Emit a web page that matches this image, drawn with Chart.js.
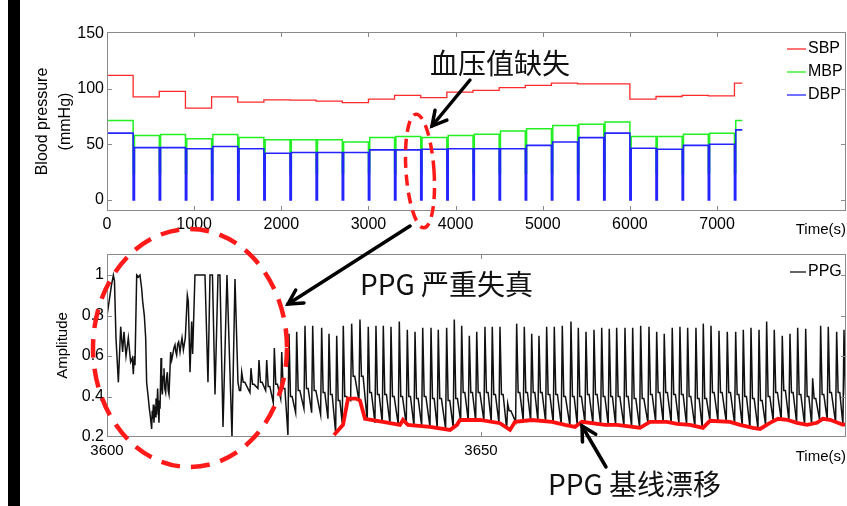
<!DOCTYPE html>
<html>
<head>
<meta charset="utf-8">
<script src="https://cdn.jsdelivr.net/npm/chart.js@4.4.1/dist/chart.umd.min.js"></script>
<style>
html, body { margin: 0; padding: 0; background: #fff; }
#page { position: relative; width: 847px; height: 506px; overflow: hidden; background: #fff; }
#bar { position: absolute; left: 8px; top: 0; width: 12px; height: 506px; background: #000; }
canvas { position: absolute; left: 0; }
#bp { top: 0; }
#ppg { top: 240px; }
#marks { position: absolute; left: 0; top: 0; }
.note { position: absolute; font-family: "Noto Sans CJK SC", sans-serif; font-size: 28px; line-height: 1; color: #111; white-space: nowrap; }
</style>
</head>
<body>
<div id="page">
  <div id="bar"></div>
  <canvas id="bp" width="847" height="240"></canvas>
  <canvas id="ppg" width="847" height="266"></canvas>
  <svg id="marks" width="847" height="506"></svg>
  <div class="note" style="left:430px;top:48px">血压值缺失</div>
  <div class="note" style="left:360px;top:269px">PPG 严重失真</div>
  <div class="note" style="left:548px;top:469px">PPG 基线漂移</div>
</div>
<script>
// ---- blood pressure, one value per 300 s block ----
const bpEdges = [0, 300, 600, 900, 1200, 1500, 1800, 2100, 2400, 2700, 3000, 3300, 3600,
    3900, 4200, 4500, 4800, 5100, 5400, 5700, 6000, 6300, 6600, 6900, 7200, 7290];
const sbp = [112, 92.6, 97.6, 82.6, 92.6, 88, 90, 89.7, 88.8, 87.4, 90.6, 94, 92,
    97, 98.5, 101, 103, 105, 104.4, 104.4, 90.6, 93, 94, 93.5, 105];
const mbp = [71.5, 58, 58.8, 55, 58.8, 56, 54, 54, 54, 52, 56, 57, 56,
    58, 59, 62, 64, 67, 68, 70, 57, 57, 59, 60, 71.5];
const dbp = [60, 47, 47, 46, 48, 46, 42, 42.6, 42.6, 42.6, 45, 45, 45.6,
    46, 46, 46, 49, 52, 56, 60, 46.5, 45.6, 49, 50, 63];
const bpTicksX = [0, 1000, 2000, 3000, 4000, 5000, 6000, 7000];
const bpTicksY = [0, 50, 100, 150];

// ---- PPG, 3600-3700 s ----
// distorted part, read point by point
const ppgRaw = [
    [3600.04, 0.81], [3600.6, 0.95], [3600.85, 1.0], [3601.0, 0.97], [3601.2, 0.69], [3601.52, 0.47],
    [3601.83, 0.745], [3602.09, 0.62], [3602.27, 0.72], [3602.54, 0.60], [3602.85, 0.69], [3603.16, 0.57],
    [3603.39, 0.59], [3603.52, 0.51], [3603.65, 0.60], [3603.74, 0.555], [3603.97, 1.0], [3604.2, 0.99],
    [3604.41, 1.0], [3604.63, 0.935], [3604.77, 0.87], [3604.99, 0.80], [3605.17, 0.69], [3605.30, 0.47],
    [3605.5, 0.40], [3605.66, 0.34], [3605.8, 0.30], [3605.97, 0.24], [3606.05, 0.33], [3606.11, 0.29],
    [3606.2, 0.36], [3606.28, 0.27], [3606.38, 0.35], [3606.46, 0.30], [3606.55, 0.39], [3606.64, 0.31],
    [3606.77, 0.44], [3606.87, 0.33], [3606.95, 0.27], [3607.02, 0.38], [3607.09, 0.34], [3607.22, 0.59],
    [3607.30, 0.45], [3607.40, 0.41], [3607.5, 0.50], [3607.62, 0.54], [3607.72, 0.44], [3607.84, 0.42],
    [3607.95, 0.49], [3608.07, 0.52], [3608.18, 0.43], [3608.29, 0.41], [3608.51, 0.62], [3608.65, 0.58],
    [3608.78, 0.605], [3608.95, 0.64], [3609.09, 0.655], [3609.2, 0.62], [3609.31, 0.605], [3609.45, 0.66],
    [3609.58, 0.67], [3609.76, 0.62], [3609.9, 0.66], [3610.03, 0.69], [3610.21, 0.63], [3610.47, 0.69],
    [3610.74, 0.90], [3610.87, 0.87], [3611.10, 0.52], [3611.32, 0.77], [3611.45, 0.61], [3611.76, 1.0],
    [3613.10, 1.0], [3613.50, 0.47], [3613.77, 1.0], [3614.1, 1.0], [3614.44, 0.41], [3614.84, 1.0],
    [3615.1, 1.0], [3615.51, 0.25], [3616.04, 1.0], [3616.71, 0.2], [3617.11, 0.98], [3617.51, 0.47],
    [3617.7, 0.43]
];
// regular beats: peak time, peak, trough before the peak, dicrotic notch
const beatT = [
    3618.01, 3619.25, 3620.32, 3621.35, 3622.37, 3623.36, 3624.33, 3625.36, 3626.47, 3627.50,
    3628.70, 3629.68, 3630.71, 3631.59, 3632.71, 3633.82, 3634.93, 3635.96, 3636.94, 3637.97,
    3639.08, 3640.15, 3641.18, 3642.21, 3643.32, 3644.29, 3645.41, 3646.43, 3647.42, 3648.44,
    3649.43, 3650.53, 3651.51, 3652.54, 3653.57, 3654.77, 3655.79, 3656.78, 3657.75, 3658.78,
    3659.80, 3660.87, 3662.03, 3663.01, 3664.04, 3665.11, 3666.14, 3667.15, 3668.14, 3669.25,
    3670.28, 3671.35, 3672.46, 3673.49, 3674.50, 3675.57, 3676.60, 3677.63, 3678.74, 3679.72,
    3680.75, 3681.82, 3682.93, 3684.05, 3685.07, 3686.10, 3687.17, 3688.19, 3689.21, 3690.28,
    3691.31, 3692.34, 3693.41, 3694.34, 3695.41, 3696.43, 3697.55, 3698.53
];
const beatPeak = [
    0.52, 0.54, 0.58, 0.58, 0.64, 0.62, 0.71, 0.72, 0.75, 0.75,
    0.74, 0.71, 0.70, 0.75, 0.76, 0.78, 0.745, 0.75, 0.75, 0.745,
    0.77, 0.73, 0.72, 0.74, 0.74, 0.73, 0.74, 0.78, 0.75, 0.70,
    0.72, 0.745, 0.745, 0.745, 0.365, 0.76, 0.745, 0.71, 0.70, 0.745,
    0.745, 0.75, 0.77, 0.74, 0.72, 0.73, 0.74, 0.735, 0.74, 0.74,
    0.74, 0.75, 0.745, 0.72, 0.71, 0.74, 0.745, 0.74, 0.74, 0.76,
    0.75, 0.725, 0.72, 0.72, 0.73, 0.74, 0.73, 0.77, 0.73, 0.70,
    0.71, 0.74, 0.735, 0.49, 0.75, 0.745, 0.72, 0.73
];
const beatLow = [
    0.43, 0.42, 0.44, 0.43, 0.37, 0.39, 0.21, 0.32, 0.34, 0.32,
    0.31, 0.29, 0.22, 0.27, 0.38, 0.38, 0.28, 0.27, 0.27, 0.265,
    0.26, 0.26, 0.255, 0.255, 0.25, 0.245, 0.24, 0.245, 0.28, 0.28,
    0.28, 0.28, 0.275, 0.27, 0.24, 0.275, 0.28, 0.28, 0.28, 0.275,
    0.27, 0.26, 0.255, 0.26, 0.27, 0.265, 0.26, 0.26, 0.26, 0.255,
    0.25, 0.245, 0.27, 0.275, 0.275, 0.27, 0.265, 0.26, 0.25, 0.245,
    0.28, 0.28, 0.275, 0.265, 0.255, 0.245, 0.24, 0.26, 0.28, 0.285,
    0.28, 0.27, 0.26, 0.265, 0.285, 0.285, 0.27, 0.26
];
const beatNotch = [
    0.47, 0.46, 0.47, 0.45, 0.46, 0.44, 0.40, 0.43, 0.44, 0.43,
    0.42, 0.41, 0.38, 0.40, 0.50, 0.50, 0.42, 0.41, 0.41, 0.40,
    0.40, 0.40, 0.39, 0.40, 0.39, 0.39, 0.38, 0.39, 0.42, 0.42,
    0.42, 0.42, 0.41, 0.41, 0.33, 0.42, 0.42, 0.42, 0.42, 0.41,
    0.41, 0.40, 0.40, 0.40, 0.41, 0.41, 0.40, 0.40, 0.40, 0.40,
    0.39, 0.39, 0.41, 0.42, 0.42, 0.41, 0.41, 0.40, 0.39, 0.39,
    0.42, 0.42, 0.42, 0.41, 0.40, 0.39, 0.38, 0.40, 0.42, 0.43,
    0.42, 0.41, 0.40, 0.39, 0.41, 0.42, 0.42, 0.41
];
// hand-traced baseline (red)
const baseT = [3630.35, 3631.55, 3632.22, 3633.29, 3633.82, 3634.49, 3636.90, 3639.17, 3639.57, 3640.24,
    3643.18, 3645.86, 3646.79, 3647.19, 3649.87, 3652.54, 3653.88, 3654.55, 3656.82, 3659.49,
    3661.23, 3662.57, 3663.50, 3666.58, 3668.18, 3670.32, 3671.26, 3672.59, 3674.87, 3676.20,
    3677.94, 3679.68, 3680.61, 3683.29, 3684.63, 3686.36, 3687.30, 3688.64, 3689.71, 3690.91,
    3692.25, 3693.58, 3694.92, 3695.72, 3696.66, 3698.40, 3698.93];
const baseV = [0.21, 0.26, 0.39, 0.39, 0.38, 0.29, 0.275, 0.26, 0.285, 0.26,
    0.25, 0.235, 0.26, 0.284, 0.284, 0.268, 0.235, 0.275, 0.284, 0.275,
    0.26, 0.25, 0.275, 0.26, 0.26, 0.25, 0.245, 0.275, 0.275, 0.265,
    0.26, 0.245, 0.28, 0.275, 0.26, 0.245, 0.24, 0.27, 0.29, 0.285,
    0.27, 0.26, 0.27, 0.29, 0.285, 0.26, 0.265];
const ppgTicksX = [3600, 3650];
const ppgTicksY = [0.2, 0.4, 0.6, 0.8, 1];

Chart.defaults.font.family = '"Liberation Sans", Arial, sans-serif';
Chart.defaults.color = '#000';

// blocks separated by short gaps where the value drops
function steps(vals, start, dip) {
    const pts = [{ x: bpEdges[0], y: start }];
    vals.forEach((v, i) => {
        const a = bpEdges[i], b = bpEdges[i + 1];
        if (i > 0 && dip !== null) {
            pts.push({ x: a, y: dip }, { x: a + 15, y: dip }, { x: a + 15, y: v });
        } else {
            pts.push({ x: a, y: v });
        }
        pts.push({ x: b, y: v });
    });
    return pts;
}

const ppgPts = ppgRaw.map(p => ({ x: p[0], y: p[1] }));
beatT.forEach((t, i) => {
    ppgPts.push({ x: t - 0.14, y: beatLow[i] });
    ppgPts.push({ x: t, y: beatPeak[i] });
    ppgPts.push({ x: t + 0.2, y: beatNotch[i] });
    ppgPts.push({ x: t + 0.42, y: beatNotch[i] });
});
const basePts = baseT.map((t, i) => ({ x: t, y: baseV[i] }));

// box with ticks pointing inward
const frame = {
    id: 'frame',
    afterDatasetsDraw(chart, args, o) {
        const { ctx, chartArea: a, scales: { x, y } } = chart;
        ctx.save();
        ctx.strokeStyle = o.color;
        ctx.lineWidth = 1;
        ctx.strokeRect(a.left + 0.5, a.top + 0.5, a.right - a.left - 1, a.bottom - a.top - 1);
        ctx.beginPath();
        x.ticks.forEach(t => {
            const p = Math.round(x.getPixelForValue(t.value)) + 0.5;
            if (p < a.left + 2 || p > a.right - 2) return;
            ctx.moveTo(p, a.bottom); ctx.lineTo(p, a.bottom - o.len);
            ctx.moveTo(p, a.top); ctx.lineTo(p, a.top + o.len);
        });
        y.ticks.forEach(t => {
            const p = Math.round(y.getPixelForValue(t.value)) + 0.5;
            if (p < a.top + 2 || p > a.bottom - 2) return;
            ctx.moveTo(a.left, p); ctx.lineTo(a.left + o.len, p);
            ctx.moveTo(a.right, p); ctx.lineTo(a.right - o.len, p);
        });
        ctx.stroke();
        ctx.restore();
    }
};

// small matlab-like legend in the top right corner
const lineKey = {
    id: 'lineKey',
    afterDraw(chart, args, o) {
        const ctx = chart.ctx;
        ctx.save();
        ctx.font = '16px "Liberation Sans", Arial, sans-serif';
        ctx.textBaseline = 'middle';
        ctx.fillStyle = '#000';
        chart.data.datasets.filter(d => d.key).forEach((d, i) => {
            const yy = o.y + i * o.row;
            ctx.strokeStyle = d.borderColor;
            ctx.lineWidth = 1.3;
            ctx.beginPath();
            ctx.moveTo(o.x, yy); ctx.lineTo(o.x + o.len, yy);
            ctx.stroke();
            ctx.fillText(d.label, o.x + o.len + 2, yy);
        });
        ctx.restore();
    }
};

function fixedTicks(list) {
    return s => { s.ticks = list.map(v => ({ value: v })); };
}

new Chart(document.getElementById('bp'), {
    type: 'line',
    data: {
        datasets: [
            { label: 'SBP', data: steps(sbp, 72, null), borderColor: '#ff2a2a', borderWidth: 1.3, key: true, order: 3 },
            { label: 'MBP', data: steps(mbp, 25, 24), borderColor: '#22f022', borderWidth: 1.5, key: true, order: 2 },
            { label: 'DBP', data: steps(dbp, 0, 0), borderColor: '#2424ff', borderWidth: 1.6, key: true, order: 1 }
        ]
    },
    options: {
        responsive: false,
        animation: false,
        devicePixelRatio: 1,
        elements: { point: { radius: 0 }, line: { tension: 0 } },
        layout: { padding: { top: 32, right: 1, left: 0, bottom: 0 } },
        plugins: {
            legend: { display: false },
            tooltip: { enabled: false },
            frame: { color: '#8a8a8a', len: 5 },
            lineKey: { x: 787, y: 49, row: 23, len: 19 }
        },
        scales: {
            x: {
                type: 'linear', min: 0, max: 8480,
                afterBuildTicks: fixedTicks(bpTicksX),
                afterFit: s => { s.height = 29; },
                grid: { display: false, drawTicks: false },
                border: { display: false },
                ticks: { font: { size: 16 }, padding: 4, maxRotation: 0, autoSkip: false, callback: v => String(v) },
                title: { display: true, text: 'Time(s)', align: 'end', font: { size: 15, lineHeight: 1.4 }, padding: { top: 0, bottom: 0 } }
            },
            y: {
                min: -10, max: 151,
                afterBuildTicks: fixedTicks(bpTicksY),
                afterFit: s => { s.width = 107; },
                grid: { display: false, drawTicks: false },
                border: { display: false },
                ticks: { font: { size: 16 }, padding: 3, callback: v => String(v) },
                title: { display: true, text: ['Blood pressure', '(mmHg)'], font: { size: 16, lineHeight: 1.4 }, padding: { top: 31.8, bottom: 0 } }
            }
        }
    },
    plugins: [frame, lineKey]
});

new Chart(document.getElementById('ppg'), {
    type: 'line',
    data: {
        datasets: [
            { label: 'PPG', data: ppgPts, borderColor: '#111', borderWidth: 1.5, key: true, order: 2 },
            { label: 'baseline', data: basePts, borderColor: '#ff1010', borderWidth: 3.8, order: 1 }
        ]
    },
    options: {
        responsive: false,
        animation: false,
        devicePixelRatio: 1,
        elements: { point: { radius: 0 }, line: { tension: 0 } },
        layout: { padding: { top: 14, right: 1, left: 0, bottom: 0 } },
        plugins: {
            legend: { display: false },
            tooltip: { enabled: false },
            frame: { color: '#8a8a8a', len: 5 },
            lineKey: { x: 790, y: 32, row: 23, len: 16 }
        },
        scales: {
            x: {
                type: 'linear', min: 3600, max: 3698.8,
                afterBuildTicks: fixedTicks(ppgTicksX),
                afterFit: s => { s.height = 69; },
                grid: { display: false, drawTicks: false },
                border: { display: false },
                ticks: { font: { size: 15 }, padding: 5, maxRotation: 0, autoSkip: false, callback: v => String(v) },
                title: { display: true, text: 'Time(s)', align: 'end', font: { size: 15, lineHeight: 1.4 }, padding: { top: 0, bottom: 38.5 } }
            },
            y: {
                min: 0.2, max: 1.104,
                afterBuildTicks: fixedTicks(ppgTicksY),
                afterFit: s => { s.width = 107; },
                grid: { display: false, drawTicks: false },
                border: { display: false },
                ticks: { font: { size: 16 }, padding: 3, callback: v => String(v) },
                title: { display: true, text: 'Amplitude', font: { size: 15, lineHeight: 1.4 }, padding: { top: 52.5, bottom: 0 } }
            }
        }
    },
    plugins: [frame, lineKey]
});

// red dashed circles and black arrows drawn over both plots
const svgNS = 'http://www.w3.org/2000/svg';
const svg = document.getElementById('marks');
function add(tag, attrs) {
    const el = document.createElementNS(svgNS, tag);
    for (const k in attrs) el.setAttribute(k, attrs[k]);
    svg.appendChild(el);
}
add('ellipse', { cx: 420, cy: 171, rx: 14, ry: 57, transform: 'rotate(-4 420 171)', fill: 'none',
    stroke: '#ff1a1a', 'stroke-width': 3.5, 'stroke-dasharray': '11 7' });
add('ellipse', { cx: 190, cy: 348, rx: 97, ry: 119, fill: 'none',
    stroke: '#ff1a1a', 'stroke-width': 4.5, 'stroke-dasharray': '19 11' });

function arrow(x1, y1, x2, y2) {
    const ang = Math.atan2(y2 - y1, x2 - x1), L = 16, w = 0.5;
    add('line', { x1, y1, x2, y2, stroke: '#000', 'stroke-width': 3.5, 'stroke-linecap': 'round' });
    const p = a => `${x2 - L * Math.cos(a)},${y2 - L * Math.sin(a)}`;
    add('polyline', { points: `${p(ang - w)} ${x2},${y2} ${p(ang + w)}`, fill: 'none', stroke: '#000',
        'stroke-width': 3.5, 'stroke-linecap': 'round', 'stroke-linejoin': 'miter' });
}
arrow(470, 80, 432, 126);
arrow(410, 226, 288, 304);
arrow(606, 467, 582, 426);
</script>
</body>
</html>
